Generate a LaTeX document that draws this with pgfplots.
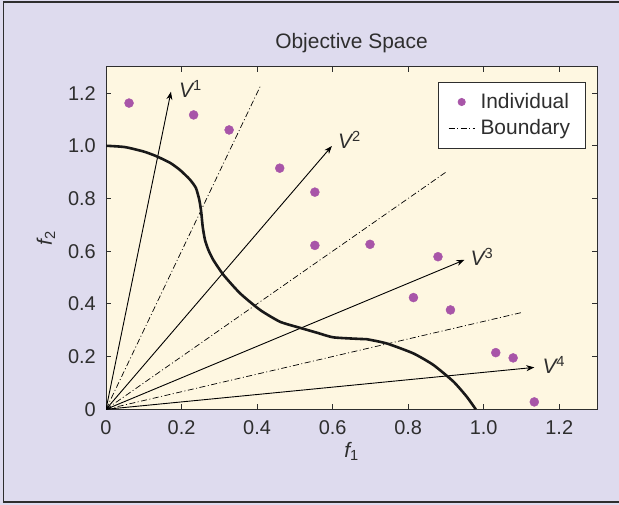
\documentclass[border=0pt]{standalone}
\usepackage{fontspec}
\setmainfont{Liberation Sans}
\usepackage{pgfplots}
\pgfplotsset{compat=1.18}
\usetikzlibrary{arrows.meta}
\definecolor{lav}{HTML}{DEDBEE}
\definecolor{cream}{HTML}{FEF7E1}
\definecolor{ind}{HTML}{A855A8}
\definecolor{txt}{HTML}{2E2E2E}
\newcommand{\vlab}[1]{{\itshape V}\textsuperscript{#1}}
\pgfplotsset{
  dotleg/.style={legend image code/.code={\draw[##1, mark size=3.6bp] plot coordinates {(13bp,0bp)};}},
  lineleg/.style={legend image code/.code={\draw[##1] (0bp,0bp) -- (26bp,0bp);}},
}
\begin{document}
\begin{tikzpicture}
\useasboundingbox (0,0) rectangle (619bp,505bp);
\fill[lav] (0,0) rectangle (619bp,505bp);
\draw[txt, line width=1.2bp] (620bp,503bp) -- (3.5bp,503bp) -- (3.5bp,3bp) -- (620bp,3bp);
\begin{axis}[
  at={(106bp,95.7bp)}, anchor=south west,
  scale only axis, width=491bp, height=342.6bp,
  xmin=0, xmax=1.3, ymin=0, ymax=1.3,
  axis background/.style={fill=cream},
  axis line style={txt, line width=0.9bp},
  tick style={txt, line width=0.8bp},
  major tick length=5.5bp, tick align=inside, tick pos=both,
  xtick={0,0.2,0.4,0.6,0.8,1.0,1.2},
  xticklabels={0,0.2,0.4,0.6,0.8,1.0,1.2},
  ytick={0,0.2,0.4,0.6,0.8,1.0,1.2},
  yticklabels={0,0.2,0.4,0.6,0.8,1.0,1.2},
  tick label style={font=\fontsize{20}{24}\selectfont, text=txt, inner sep=0pt},
  xticklabel shift=11bp, yticklabel shift=10bp,
  title={Objective Space},
  title style={at={(0.5,1.037)}, anchor=base, font=\fontsize{21}{25}\selectfont, text=txt, inner sep=0pt},
  xlabel={{\itshape f}\textsubscript{1}},
  xlabel style={at={(0.5,-0.140)}, anchor=base, font=\fontsize{21}{25}\selectfont, text=txt, inner sep=0pt},
  ylabel={{\itshape f}\textsubscript{2}},
  ylabel style={at={(-0.110,0.5)}, anchor=base, font=\fontsize{21}{25}\selectfont, text=txt, inner sep=0pt},
  legend style={at={(0.9776,0.9560)}, anchor=north east, draw=txt, line width=0.8bp, fill=white,
    font=\fontsize{21}{25}\selectfont, text=txt, inner xsep=10bp, inner ysep=11.5bp, row sep=9.5bp,
    nodes={inner ysep=0bp, inner xsep=5.5bp}},
  legend cell align=left,
]
\addplot[only marks, mark=*, mark size=4.5bp, color=ind, mark options={draw=ind, fill=ind}, dotleg]
  coordinates {
  (0.061,1.162) (0.232,1.117) (0.326,1.060) (0.460,0.915) (0.553,0.824)
  (0.553,0.622) (0.699,0.626) (0.879,0.579) (0.814,0.424) (0.912,0.377)
  (1.032,0.215) (1.078,0.195) (1.134,0.028)
  };
\addlegendentry{Individual}
\addplot[black, line width=0.7bp, dash pattern=on 6bp off 2.5bp on 1bp off 2.5bp, lineleg]
  coordinates {(0,0) (0.408,1.224)};
\addlegendentry{Boundary}
\addplot[forget plot, black, line width=0.7bp, dash pattern=on 6bp off 2.5bp on 1bp off 2.5bp]
  coordinates {(0,0) (0.902,0.902)};
\addplot[forget plot, black, line width=0.7bp, dash pattern=on 6bp off 2.5bp on 1bp off 2.5bp]
  coordinates {(0,0) (1.103,0.368)};
\addplot[forget plot, black, line width=0.9bp, -{Stealth[length=8bp,width=6bp]}] coordinates {(0,0) (0.172,1.205)};
\addplot[forget plot, black, line width=0.9bp, -{Stealth[length=8bp,width=6bp]}] coordinates {(0,0) (0.598,0.999)};
\addplot[forget plot, black, line width=0.9bp, -{Stealth[length=8bp,width=6bp]}] coordinates {(0,0) (0.949,0.567)};
\addplot[forget plot, black, line width=0.9bp, -{Stealth[length=8bp,width=6bp]}] coordinates {(0,0) (1.134,0.159)};
\addplot[forget plot, black!90, line width=2.6bp, smooth, tension=0.35] coordinates {
  (0,1.0) (0.05,0.995) (0.1,0.978) (0.134,0.960) (0.17,0.935) (0.196,0.908)
  (0.222,0.872) (0.238,0.840) (0.247,0.795) (0.252,0.75) (0.256,0.693) (0.262,0.643)
  (0.271,0.605) (0.284,0.567) (0.311,0.510) (0.355,0.440) (0.408,0.377) (0.461,0.332)
  (0.514,0.309) (0.560,0.290) (0.602,0.273) (0.672,0.267) (0.690,0.266) (0.743,0.250)
  (0.814,0.212) (0.867,0.168) (0.920,0.105) (0.955,0.048) (0.979,0.0)
  };
\node[anchor=west, inner sep=0pt, font=\fontsize{21}{25}\selectfont, text=txt, xshift=8bp, yshift=3bp] at (axis cs:0.172,1.205) {\vlab{1}};
\node[anchor=west, inner sep=0pt, font=\fontsize{21}{25}\selectfont, text=txt, xshift=6bp, yshift=6bp] at (axis cs:0.598,0.999) {\vlab{2}};
\node[anchor=west, inner sep=0pt, font=\fontsize{21}{25}\selectfont, text=txt, xshift=6bp, yshift=3bp] at (axis cs:0.949,0.567) {\vlab{3}};
\node[anchor=west, inner sep=0pt, font=\fontsize{21}{25}\selectfont, text=txt, xshift=8bp, yshift=2.5bp] at (axis cs:1.134,0.159) {\vlab{4}};
\end{axis}
\end{tikzpicture}
\end{document}
